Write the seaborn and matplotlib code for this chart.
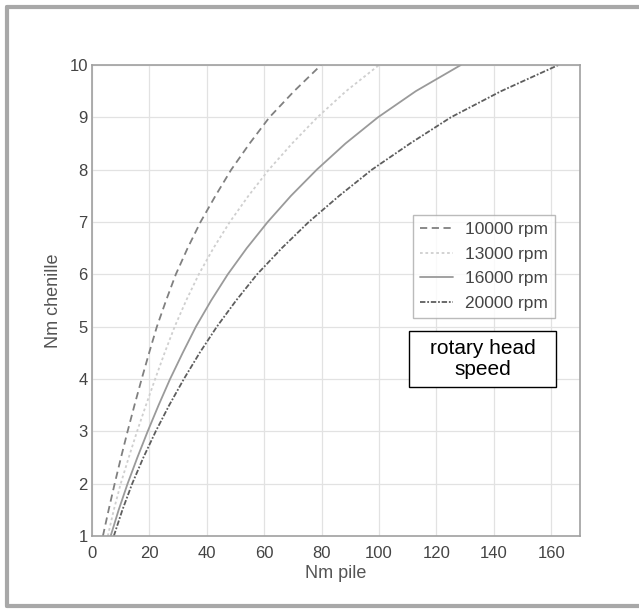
import matplotlib
matplotlib.use("Agg")
import matplotlib.pyplot as plt
from matplotlib.lines import Line2D
from matplotlib.patches import Rectangle
import seaborn as sns
import pandas as pd

# ---- data ----
nm_chenille = [1, 1.5, 2, 2.5, 3, 3.5, 4, 4.5, 5, 5.5, 6, 6.5, 7, 7.5, 8, 8.5, 9, 9.5, 10]
pile_10000 = [3.8, 5.8, 7.9, 10.1, 12.4, 14.8, 17.3, 19.9, 22.6, 25.8, 29.2, 33.3, 37.8, 43.0, 48.5, 54.9, 61.8, 70.4, 79.8]
pile_13000 = [5.5, 7.6, 10.0, 12.8, 15.7, 18.8, 22.0, 25.3, 28.8, 32.8, 37.2, 42.3, 48.0, 54.5, 61.6, 69.7, 78.5, 88.5, 100.0]
pile_16000 = [6.5, 9.3, 12.4, 15.8, 19.4, 23.2, 27.2, 31.6, 36.2, 41.5, 47.3, 53.9, 61.2, 69.3, 78.3, 88.3, 99.6, 112.8, 128.5]
pile_20000 = [7.6, 10.6, 14.0, 17.9, 22.2, 26.9, 32.0, 37.5, 43.5, 50.2, 57.5, 66.1, 75.5, 86.1, 97.5, 110.8, 125.0, 142.5, 162.5]
series_labels = ["10000 rpm", "13000 rpm", "16000 rpm", "20000 rpm"]
x_ticks = [0, 20, 40, 60, 80, 100, 120, 140, 160]
y_ticks = [1, 2, 3, 4, 5, 6, 7, 8, 9, 10]
x_label = "Nm pile"
y_label = "Nm chenille"
note_text = "rotary head\nspeed"

rows = []
for lab, xs in zip(series_labels, [pile_10000, pile_13000, pile_16000, pile_20000]):
    for xv, yv in zip(xs, nm_chenille):
        rows.append({"Nm pile": xv, "Nm chenille": yv, "speed": lab})
df = pd.DataFrame(rows)

sns.set_theme(style="white")
plt.rcParams["font.family"] = ["Liberation Sans", "DejaVu Sans"]

fig = plt.figure(figsize=(6.39, 6.12), dpi=100)
ax = fig.add_axes([92 / 639, 76 / 612, 488 / 639, 471 / 612])

palette = {"10000 rpm": "#808080", "13000 rpm": "#cfcfcf",
           "16000 rpm": "#9a9a9a", "20000 rpm": "#5e5e5e"}
dashes = {"10000 rpm": (4, 2.5), "13000 rpm": (1.5, 1.5),
          "16000 rpm": "", "20000 rpm": (3, 1, 1, 1)}
sns.lineplot(data=df, x="Nm pile", y="Nm chenille", hue="speed", style="speed",
             palette=palette, dashes=dashes, estimator=None, sort=False,
             linewidth=1.3, ax=ax, legend=False)

ax.set_xlim(0, 170)
ax.set_ylim(1, 10)
ax.set_xticks(x_ticks)
ax.set_yticks(y_ticks)
ax.grid(True, color="#e2e2e2", linewidth=0.9)
for s in ax.spines.values():
    s.set_color("#a0a0a0")
    s.set_linewidth(1.2)
ax.tick_params(direction="in", length=4, color="#a0a0a0", labelsize=12,
               labelcolor="#444444")
ax.tick_params(axis="x", pad=7)
ax.tick_params(axis="y", pad=3)
ax.set_xlabel(x_label, fontsize=13, color="#555555", labelpad=3)
ax.set_ylabel(y_label, fontsize=13, color="#555555", labelpad=5)

handles = [Line2D([], [], color=palette[l], linewidth=1.3,
                  linestyle=(0, dashes[l]) if dashes[l] else "-")
           for l in series_labels]
leg = ax.legend(handles, series_labels, loc="upper left",
                bbox_to_anchor=(0.657, 0.682), borderaxespad=0,
                fontsize=12.5, frameon=True,
                fancybox=False, edgecolor="#aaaaaa", handlelength=1.9,
                labelspacing=0.55, borderpad=0.4, handletextpad=0.7,
                labelcolor="#444444")
leg.get_frame().set_linewidth(1.0)

# note box
fig.add_artist(Rectangle((409 / 639, (612 - 387) / 612), 147 / 639, 56 / 612,
                         transform=fig.transFigure, facecolor="white",
                         edgecolor="black", linewidth=1.0))
fig.text(482.5 / 639, (612 - 359) / 612, note_text, ha="center", va="center",
         fontsize=15, color="black", linespacing=1.12)

# outer frame (top, left, bottom)
fc = "#a8a8a8"
fig.add_artist(Line2D([6.5 / 639, 1], [1 - 7 / 612, 1 - 7 / 612], transform=fig.transFigure, color=fc, linewidth=3))
fig.add_artist(Line2D([6.5 / 639, 6.5 / 639], [1 - 7 / 612, 1 - 606 / 612], transform=fig.transFigure, color=fc, linewidth=3))
fig.add_artist(Line2D([6.5 / 639, 1], [1 - 606 / 612, 1 - 606 / 612], transform=fig.transFigure, color=fc, linewidth=3))

fig.savefig("out.png", dpi=100)
